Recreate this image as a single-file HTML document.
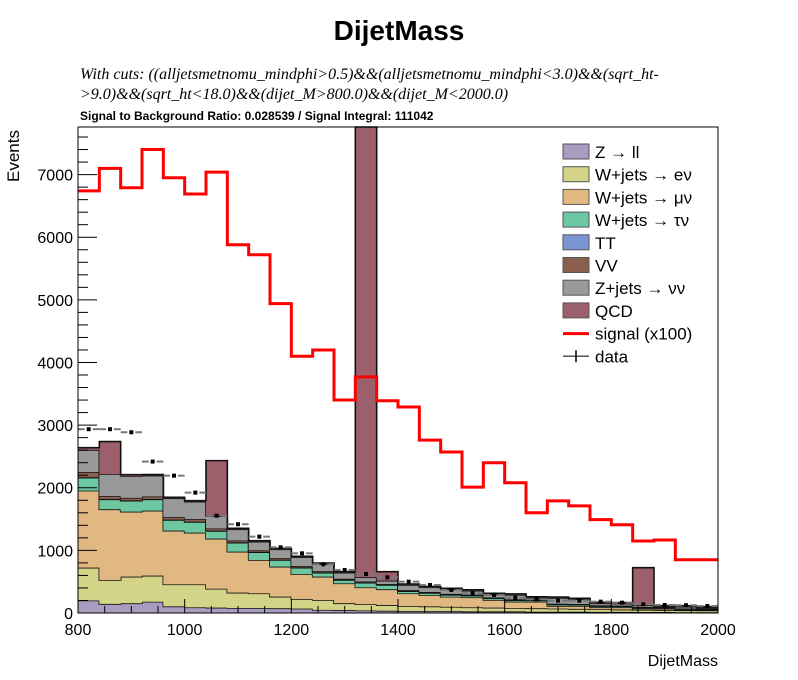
<!DOCTYPE html>
<html><head><meta charset="utf-8"><style>
body{margin:0;background:#fff;width:798px;height:675px;overflow:hidden}
svg text{font-family:"Liberation Sans",sans-serif}
</style></head><body>
<svg id="c" width="798" height="675">
<text x="399" y="40" text-anchor="middle" font-size="28" font-weight="bold">DijetMass</text>
<text x="80" y="79" font-size="16" font-style="italic" style="font-family:'Liberation Serif',serif">With cuts: ((alljetsmetnomu_mindphi&gt;0.5)&amp;&amp;(alljetsmetnomu_mindphi&lt;3.0)&amp;&amp;(sqrt_ht-</text>
<text x="80" y="99" font-size="16" font-style="italic" style="font-family:'Liberation Serif',serif">&gt;9.0)&amp;&amp;(sqrt_ht&lt;18.0)&amp;&amp;(dijet_M&gt;800.0)&amp;&amp;(dijet_M&lt;2000.0)</text>
<text x="80" y="120" font-size="12" font-weight="bold">Signal to Background Ratio: 0.028539 / Signal Integral: 111042</text>
<text x="0" y="0" transform="translate(19,156) rotate(-90)" text-anchor="middle" font-size="17">Events</text>
<text x="718" y="666" font-size="16" text-anchor="end">DijetMass</text>
<g id="plot"></g>
<g id="legend"></g>
</svg>
<script>
const binLo = 800, binW = 40;
const zll = [200,145,155,180,105,90,85,80,80,75,70,50,45,40,35,30,30,30,25,25,25,20,20,20,18,18,15,15,12,12];
const wev = [524,382,425,416,353,368,303,245,234,186,154,158,110,100,90,82,75,68,65,60,55,55,50,45,42,37,35,30,30,28];
const wmv = [1230,1129,1038,1038,857,825,799,654,533,479,399,372,319,270,254,202,183,162,160,123,101,106,42,47,31,36,19,24,6,8];
const wtv = [208,160,176,182,171,171,123,144,123,107,101,64,53,74,68,35,32,30,28,27,24,22,23,21,19,17,16,14,14,12];
const tt = [5,5,5,5,5,5,5,5,5,5,5,5,5,5,5,5,5,5,5,5,5,5,5,5,5,5,5,5,5,5];
const vv = [85,45,40,40,40,40,35,30,25,22,20,18,15,14,12,12,10,10,9,8,8,7,7,6,6,5,5,5,4,4];
const znn = [352,354,349,334,301,279,200,179,139,143,141,116,97,67,52,81,75,74,64,51,72,29,93,75,34,33,28,8,29,16];
const qcd = [36,517,20,15,15,15,883,15,15,15,15,15,15,7300,144,15,15,15,15,15,15,15,15,15,15,15,601,15,15,15];
const signal = [6740,7100,6790,7400,6950,6690,7040,5880,5720,4940,4100,4200,3400,3770,3390,3290,2760,2570,2010,2400,2080,1600,1790,1710,1490,1410,1150,1165,850,850];
const data = [2935,2935,2886,2418,2193,1922,1554,1417,1219,1049,953,778,687,623,570,500,447,367,314,288,244,219,197,197,181,165,139,128,124,112];
const yTicks = [0,1000,2000,3000,4000,5000,6000,7000];
const xTicks = [800,1000,1200,1400,1600,1800,2000];

const X0=78,X1=718,Y0=613,Y1=127,xMin=800,xMax=2000,yMax=7760;
const sx=v=>X0+(v-xMin)/(xMax-xMin)*(X1-X0);
const sy=v=>Math.max(Y1,Y0-v/yMax*(Y0-Y1));
const NS='http://www.w3.org/2000/svg';
const plot=document.getElementById('plot');
function mk(t,a,p){const e=document.createElementNS(NS,t);for(const k in a)e.setAttribute(k,a[k]);(p||plot).appendChild(e);return e;}
const comps=[
 ['z-ll',zll,'#a89cc0'],['w-ev',wev,'#d3d487'],['w-munu',wmv,'#e2b882'],['w-taunu',wtv,'#6dc8a2'],
 ['tt',tt,'#7a96d4'],['vv',vv,'#8b5f4e'],['z-nunu',znn,'#999999'],['qcd',qcd,'#9c5f6c']];
const n=signal.length;
const cum=new Array(n).fill(0);
comps.forEach(([name,arr,col])=>{
  const lo=cum.slice();
  for(let i=0;i<n;i++)cum[i]+=arr[i];
  let top='',bot='';
  for(let i=0;i<n;i++){const a=sx(binLo+i*binW),b=sx(binLo+(i+1)*binW);top+=(i?'L':'M')+a+','+sy(cum[i])+'L'+b+','+sy(cum[i]);}
  for(let i=n-1;i>=0;i--){const a=sx(binLo+i*binW),b=sx(binLo+(i+1)*binW);bot+='L'+b+','+sy(lo[i])+'L'+a+','+sy(lo[i]);}
  const p=mk('path',{d:top+bot+'Z',fill:col,stroke:'none'});
  
  
  let ln='';
  for(let i=0;i<n;i++){const a=sx(binLo+i*binW),b=sx(binLo+(i+1)*binW);ln+=(i?'L':'M')+a+','+sy(cum[i])+'L'+b+','+sy(cum[i]);}
  const l=mk('path',{d:ln,fill:'none',stroke:'#111','stroke-width':1.6});
  
  
});
let sd='';
for(let i=0;i<n;i++){const a=sx(binLo+i*binW),b=sx(binLo+(i+1)*binW);sd+=(i?'L':'M')+a+','+sy(signal[i])+'L'+b+','+sy(signal[i]);}
const sp=mk('path',{d:sd,fill:'none',stroke:'#ff0000','stroke-width':3});


for(let i=0;i<n;i++){
  const a=sx(binLo+i*binW),b=sx(binLo+(i+1)*binW),c=(a+b)/2,y=sy(data[i]);
  const e1=mk('line',{x1:a,x2:c-4,y1:y,y2:y,stroke:'#777','stroke-width':2});
  
  
  const e2=mk('line',{x1:c+4,x2:b,y1:y,y2:y,stroke:'#777','stroke-width':2});
  
  
  const m=mk('rect',{x:c-2,y:y-2,width:4,height:4,fill:'#000'});
  
  
}
const fr=mk('rect',{x:X0,y:Y1,width:X1-X0,height:Y0-Y1,fill:'none',stroke:'#000','stroke-width':1});


for(let v=0;v<=7600;v+=200){const y=sy(v),maj=v%1000===0;
  const t=mk('line',{x1:X0,x2:X0+(maj?19:10),y1:y,y2:y,stroke:'#000'});
  
  }
yTicks.forEach(v=>{const t=mk('text',{x:X0-5,y:sy(v)+6,'text-anchor':'end','font-size':16});t.textContent=v;
  
  });
for(let v=800;v<=2000;v+=50){const x=sx(v),maj=v%200===0;
  const t=mk('line',{x1:x,x2:x,y1:Y0,y2:Y0-(maj?14:7),stroke:'#000'});
  
  }
xTicks.forEach(v=>{const t=mk('text',{x:sx(v),y:Y0+22,'text-anchor':'middle','font-size':16});t.textContent=v;
  
  });
const lg=document.getElementById('legend');
const labels=['Z \u2192 ll','W+jets \u2192 e\u03bd','W+jets \u2192 \u03bc\u03bd','W+jets \u2192 \u03c4\u03bd','TT','VV','Z+jets \u2192 \u03bd\u03bd','QCD'];
comps.forEach((c,i)=>{const y=144+i*22.7;
  const r=mk('rect',{x:563,y:y,width:26,height:15,fill:c[2],stroke:'#555','stroke-width':1},lg);
  
  
  const t=mk('text',{x:595,y:y+14,'font-size':17},lg);t.textContent=labels[i];
  
  });
let ly=144+8*22.7;
const sl=mk('line',{x1:563,x2:589,y1:ly+8,y2:ly+8,stroke:'#ff0000','stroke-width':3},lg);


const st=mk('text',{x:595,y:ly+14,'font-size':17},lg);st.textContent='signal (x100)';


ly+=22.7;
const dl=mk('line',{x1:563,x2:589,y1:ly+8,y2:ly+8,stroke:'#555','stroke-width':1.5},lg);


const dv=mk('line',{x1:576,x2:576,y1:ly+2,y2:ly+14,stroke:'#000','stroke-width':1.5},lg);


const dt=mk('text',{x:595,y:ly+14,'font-size':17},lg);dt.textContent='data';


</script>
</body></html>
